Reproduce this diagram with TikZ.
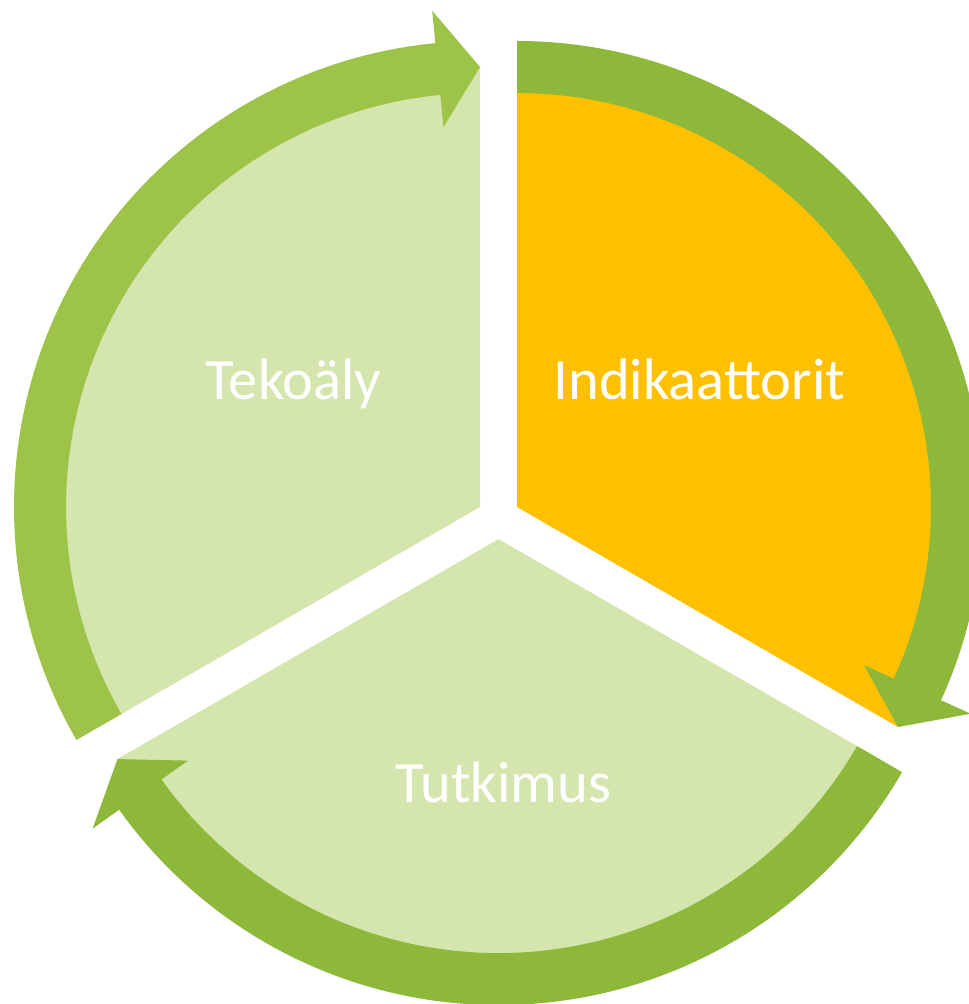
\documentclass[tikz,border=0pt]{standalone}
\usepackage{fontspec}
\setmainfont{Carlito}
\usetikzlibrary{calc}
\definecolor{slicegreen}{HTML}{D4E5AD}
\definecolor{sliceorange}{HTML}{FFC000}
\definecolor{arrowgreen}{HTML}{8DB83A}
\definecolor{arrowlight}{HTML}{9DC448}
\tikzset{
  slicefill/.style={fill=#1, draw=none},
  ringarrow/.style={fill=#1, draw=none},
  label/.style={text=white, font=\fontsize{58.5}{62}\selectfont, anchor=base, inner sep=0pt}
}
\begin{document}
\begin{tikzpicture}[x=1pt,y=1pt]
\useasboundingbox (0,0) rectangle (969,1004);
\clip (0,0) rectangle (969,1004);
% slice centres
\coordinate (O1) at (517,497);
\coordinate (O2) at (480,497);
\coordinate (O3) at (498.5,464.9);
% slices
\fill[slicefill=sliceorange] (O1) -- ++(90:440) arc[start angle=90, end angle=-30, radius=440] -- cycle;
\fill[slicefill=slicegreen] (O2) -- ++(90:440) arc[start angle=90, end angle=210, radius=440] -- cycle;
\fill[slicefill=slicegreen] (O3) -- ++(210:440) arc[start angle=210, end angle=330, radius=440] -- cycle;
% arrows
\fill[ringarrow=arrowgreen] ($(O1)+(90:466)$) arc[start angle=90, end angle=-24.5, radius=466]
  -- ($(O1)+(-24.5:498.5)$) -- ($(O1)+(-30:440)$) -- ($(O1)+(-24.5:381.5)$)
  -- ($(O1)+(-24.5:414)$) arc[start angle=-24.5, end angle=90, radius=414] -- cycle;
\fill[ringarrow=arrowlight] ($(O2)+(210:466)$) arc[start angle=210, end angle=95.5, radius=466]
  -- ($(O2)+(95.5:498.5)$) -- ($(O2)+(90:440)$) -- ($(O2)+(95.5:381.5)$)
  -- ($(O2)+(95.5:414)$) arc[start angle=95.5, end angle=210, radius=414] -- cycle;
\fill[ringarrow=arrowgreen] ($(O3)+(330:466)$) arc[start angle=330, end angle=215.5, radius=466]
  -- ($(O3)+(215.5:498.5)$) -- ($(O3)+(210:440)$) -- ($(O3)+(215.5:381.5)$)
  -- ($(O3)+(215.5:414)$) arc[start angle=215.5, end angle=330, radius=414] -- cycle;
% labels
\node[label] (tekoaly) at (293.5,604) {Tekoäly};
\node[label] (indik) at (699.5,604) {Indikaattorit};
\node[label] (tutk) at (503.5,201) {Tutkimus};
\end{tikzpicture}
\end{document}
